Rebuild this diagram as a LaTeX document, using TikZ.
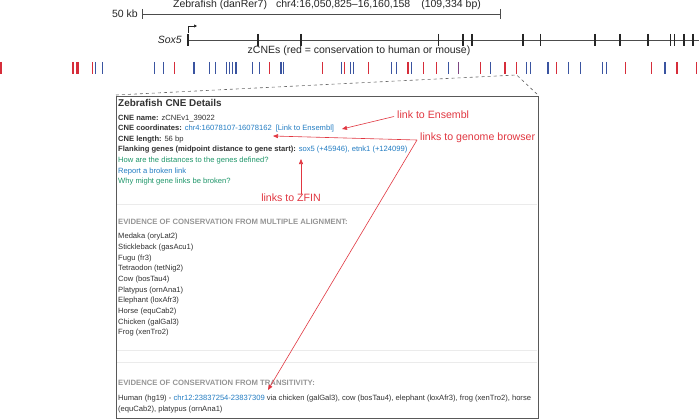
\documentclass[tikz,border=0pt]{standalone}
\usepackage{fontspec}
\setmainfont{Liberation Sans}
\usetikzlibrary{arrows.meta}
\definecolor{cnered}{RGB}{214,45,58}
\definecolor{cneblue}{RGB}{58,84,160}
\definecolor{cnepurple}{RGB}{125,70,130}
\definecolor{linkblue}{RGB}{35,125,195}
\definecolor{hintgreen}{RGB}{30,150,105}
\definecolor{notered}{RGB}{225,55,65}
\definecolor{bodygray}{RGB}{50,50,50}
\definecolor{headgray}{RGB}{150,150,150}
\tikzset{
  tracktext/.style={font=\fontsize{10.5}{12}\selectfont, inner sep=0pt, text=black!85},
  boxtext/.style={font=\fontsize{7.6}{9}\selectfont, anchor=west, inner sep=0pt, text=bodygray},
  boxhead/.style={boxtext, font=\fontsize{7.7}{9}\selectfont\bfseries, text=headgray},
  note/.style={font=\fontsize{10.6}{12}\selectfont, text=notered, inner sep=0pt},
  notearrow/.style={draw=notered, line width=0.6pt, -{Triangle[length=5pt,width=4pt]}},
  exon/.style={line width=1.8pt, black!85},
}
\begin{document}
\begin{tikzpicture}[x=1pt, y=-1pt]
  \useasboundingbox (0,0) rectangle (699,420);

  % scale bar
  \node[tracktext] (assembly) at (327,5) {Zebrafish (danRer7)\hspace{9pt}chr4:16,050,825--16,160,158\hspace{11pt}(109,334 bp)};
  \node[tracktext, anchor=east] (scalelabel) at (138,14) {50 kb};
  \draw[black!70, line width=0.7pt] (142,14) -- (500,14);
  \draw[black!70, line width=0.7pt] (142,9) -- (142,19) (500,9) -- (500,19);

  % gene
  \node[tracktext, anchor=east, font=\fontsize{10.5}{12}\selectfont\itshape] (genelabel) at (182,40) {Sox5};
  \draw[black!70, line width=0.7pt] (188,40) -- (699,40);
  \foreach \x in {188,258,301,463,472,523,595,620,648,684,693}
    \draw[exon] (\x,34) -- (\x,46);
  \foreach \x in {438,540,670,674}
    \draw[black!85, line width=1pt] (\x,34) -- (\x,46);
  \draw[black!85, line width=0.7pt, -{Triangle[length=3pt,width=3pt]}] (188,33) -- (188,26) -- (197,26);

  % zCNEs
  \node[tracktext] (cnelabel) at (359,51) {zCNEs (red = conservation to human or mouse)};
  \foreach \x/\w in {1/2, 73/1.5, 77.5/2.2, 92.7/1, 174/1, 269.3/1.5, 322.7/1, 344.3/1,
      368.3/1, 408.3/2, 423.3/1, 436/1, 480/1, 505/2.5, 516.7/1, 556.7/1, 625.3/1,
      651.7/1, 676.7/2.2, 696.7/1.5}
    \draw[cnered, line width=\w pt] (\x,62) -- (\x,74);
  \foreach \x/\w in {95.7/1, 102.7/1, 154.3/1, 163.3/1, 194.3/2, 209/1, 215.7/1,
      226.7/1.5, 229.5/1.5, 232.3/1.5, 236/1.5, 252.5/1, 259/1, 281/1.5, 283.7/1.5,
      341.7/1, 350.7/1.5, 353.3/1.5, 391.7/1.5, 396.7/1.5, 411/1, 448.7/1, 490.7/1,
      526.7/1, 530/1, 548.3/2, 568.3/1, 580/1, 602.7/1, 606.7/1, 665/1.5}
    \draw[cneblue, line width=\w pt] (\x,62) -- (\x,74);
  \draw[cnepurple, line width=1.2pt] (458.3,62) -- (458.3,74);

  % zoom lines
  \coordinate (zoomcne) at (516.7,75);
  \draw[black!60, dashed, line width=0.6pt] (116,95) -- (zoomcne) -- (538,95);

  % details box
  \draw[black!65, line width=0.8pt, fill=white] (116,96) rectangle (538,418);
  \draw[black!8, line width=0.6pt] (117,204) -- (537,204);
  \draw[black!8, line width=0.6pt] (117,350) -- (537,350);
  \draw[black!8, line width=0.6pt] (117,362) -- (537,362);

  \node[boxtext, font=\fontsize{9.9}{11}\selectfont\bfseries] (title) at (118,103) {Zebrafish CNE Details};
  \node[boxtext] (cnename) at (118,118.3) {\textbf{CNE name:} zCNEv1\_39022};
  \node[boxtext] (cnecoord) at (118,129) {\textbf{CNE coordinates:} \textcolor{linkblue}{chr4:16078107-16078162\hspace{4pt}[Link to Ensembl]}};
  \node[boxtext] (cnelen) at (118,139.5) {\textbf{CNE length:} 56 bp};
  \node[boxtext] (flank) at (118,150) {\textbf{Flanking genes (midpoint distance to gene start):} \textcolor{linkblue}{sox5 (+45946), etnk1 (+124099)}};
  \node[boxtext, text=hintgreen] (howdist) at (118,160.7) {How are the distances to the genes defined?};
  \node[boxtext, text=linkblue] (report) at (118,171.2) {Report a broken link};
  \node[boxtext, text=hintgreen] (whybroken) at (118,181.7) {Why might gene links be broken?};

  \node[boxhead] (alnhead) at (118,221.7) {EVIDENCE OF CONSERVATION FROM MULTIPLE ALIGNMENT:};
  \foreach \sp [count=\i from 0] in {Medaka (oryLat2), Stickleback (gasAcu1), Fugu (fr3),
      Tetraodon (tetNig2), Cow (bosTau4), Platypus (ornAna1), Elephant (loxAfr3),
      Horse (equCab2), Chicken (galGal3), Frog (xenTro2)}
    \node[boxtext] (sp\i) at (118,236.7+10.7*\i) {\sp};

  \node[boxhead] (transhead) at (118,383.3) {EVIDENCE OF CONSERVATION FROM TRANSITIVITY:};
  \node[boxtext] (human1) at (118,399) {Human (hg19) - \textcolor{linkblue}{chr12:23837254-23837309} via chicken (galGal3), cow (bosTau4), elephant (loxAfr3), frog (xenTro2), horse};
  \node[boxtext] (human2) at (118,410) {(equCab2), platypus (ornAna1)};

  % annotations
  \coordinate (enslink) at (342,129);
  \coordinate (coordlink) at (273,136);
  \coordinate (humanlink) at (268,390);
  \coordinate (zfinlink) at (301,159);
  \coordinate (gbfork) at (417,140);

  \node[note, anchor=west] (ensnote) at (397,115) {link to Ensembl};
  \node[note, anchor=west] (gbnote) at (420,138) {links to genome browser};
  \node[note] (zfinnote) at (291,198) {links to ZFIN};

  \draw[notearrow] ([xshift=-3pt,yshift=-1.5pt]ensnote.west) -- (enslink);
  \draw[notearrow] (gbfork) -- (coordlink);
  \draw[notearrow] (gbfork) -- (humanlink);
  \draw[notearrow] (zfinnote.north -| zfinlink) -- (zfinlink);
\end{tikzpicture}
\end{document}
